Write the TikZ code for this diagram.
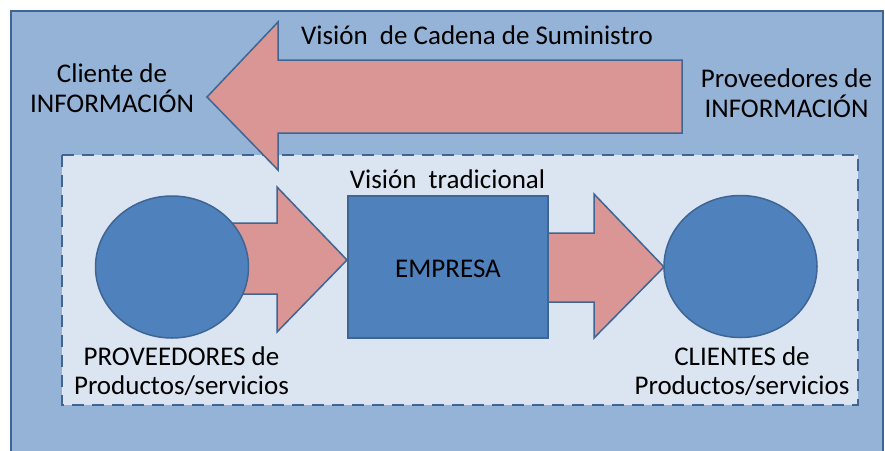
\documentclass[tikz,border=0pt]{standalone}
\usepackage{fontspec}
\setmainfont{Carlito}
\usetikzlibrary{shapes.geometric}
\begin{document}
\begin{tikzpicture}[x=1pt,y=-1pt,
  arrowshape/.style={fill=arrowpink, draw=bordercol, line width=1.5pt, line join=miter},
  bluedisc/.style={ellipse, fill=discblue, draw=bordercol, line width=1.5pt, minimum width=153pt, minimum height=142pt, inner sep=0pt},
  lbl/.style={font=\fontsize{27}{29.5}\selectfont, text=black, align=center, inner sep=0pt}]
\definecolor{outerblue}{HTML}{95B3D7}
\definecolor{innerblue}{HTML}{DBE5F1}
\definecolor{discblue}{HTML}{4F81BD}
\definecolor{arrowpink}{HTML}{D99694}
\definecolor{bordercol}{HTML}{3E6593}
\useasboundingbox (0,0) rectangle (885,450);
\clip (0,0) rectangle (885,450);
\fill[white] (0,0) rectangle (885,450);
% outer frame
\draw[fill=outerblue, draw=bordercol, line width=2.2pt] (11,11) rectangle (883,470);
% dashed traditional view
\draw[fill=innerblue, draw=bordercol, line width=2pt, dash pattern=on 12pt off 8pt] (62,155) rectangle (858,405);
% big information arrow
\draw[arrowshape] (207,97) -- (278,22) -- (278,60) -- (682,60) -- (682,133) -- (278,133) -- (278,170) -- cycle;
% small arrows
\draw[arrowshape] (230,223) -- (277,223) -- (277,187) -- (347,260) -- (277,332) -- (277,294) -- (230,294) -- cycle;
\draw[arrowshape] (548,233) -- (594,233) -- (594,194) -- (664,267) -- (594,338) -- (594,302) -- (548,302) -- cycle;
% shapes
\node[bluedisc] (prov) at (172,267) {};
\node[bluedisc] (cli) at (740.5,266.5) {};
\node[fill=discblue, draw=bordercol, line width=1.5pt, minimum width=200pt, minimum height=142pt, inner sep=0pt] (emp) at (448,267) {};
% labels
\node[lbl] (tsc) at (477,35) {Visión\ \ de Cadena de Suministro};
\node[lbl] (tcli) at (112,88) {Cliente de\\INFORMACIÓN};
\node[lbl] (tprov) at (786.5,93) {Proveedores de\\INFORMACIÓN};
\node[lbl] (ttrad) at (447.5,179) {Visión\ \ tradicional};
\node[lbl] (temp) at (448,269) {EMPRESA};
\node[lbl] (tpp) at (181.5,371) {PROVEEDORES de\\Productos/servicios};
\node[lbl] (tcp) at (742,371) {CLIENTES de\\Productos/servicios};
\end{tikzpicture}
\end{document}
